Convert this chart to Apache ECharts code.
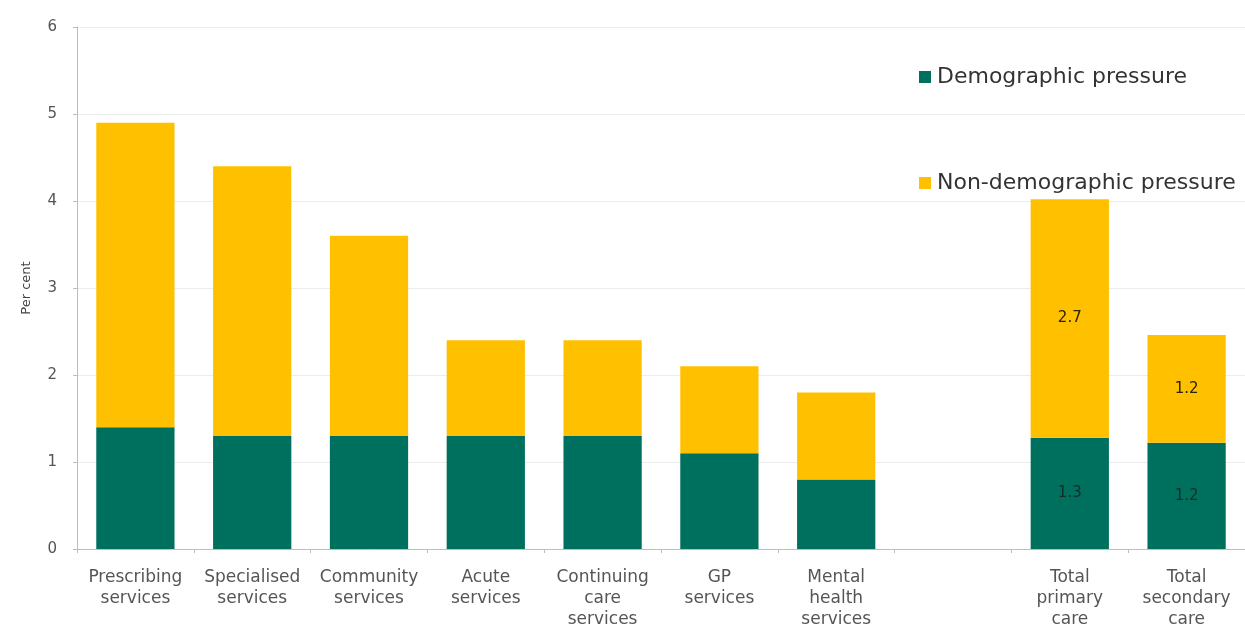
<!DOCTYPE html>
<html><head><meta charset="utf-8">
<script src="https://cdn.jsdelivr.net/npm/echarts@6/dist/echarts.min.js"></script>
<style>html,body{margin:0;padding:0;background:#fff}#c{width:1245px;height:635px}</style>
</head><body><div id="c"></div>
<script>
const categories = ["Prescribing\nservices","Specialised\nservices","Community\nservices","Acute\nservices","Continuing\ncare\nservices","GP\nservices","Mental\nhealth\nservices","","Total\nprimary\ncare","Total\nsecondary\ncare"];
const demographic = [1.4, 1.3, 1.3, 1.3, 1.3, 1.1, 0.8, null, 1.28, 1.22];
const nonDemographic = [3.5, 3.1, 2.3, 1.1, 1.1, 1.0, 1.0, null, 2.74, 1.24];
const labelled = [8, 9];
const yTicks = [0, 6, 1];

const FONT = '"DejaVu Sans", sans-serif';
function build(vals){
  return vals.map((v,i)=>({value:v, label:{show: labelled.includes(i) && v!=null}}));
}
const chart = echarts.init(document.getElementById('c'));
chart.setOption({
  animation:false,
  textStyle:{fontFamily:FONT},
  grid:{left:77, right:-6, top:27, bottom:86, containLabel:false},
  legend:{
    orient:'vertical', left:914, top:61, itemGap:84,
    itemWidth:12, itemHeight:12, icon:'rect',
    textStyle:{fontSize:22, color:'#333', fontFamily:FONT, padding:[0,0,0,1]},
    data:['Demographic pressure','Non-demographic pressure']
  },
  xAxis:{
    type:'category', data:categories,
    axisLine:{lineStyle:{color:'#bdbdbd'}},
    axisTick:{show:true, length:4, lineStyle:{color:'#bdbdbd'}},
    axisLabel:{color:'#555', fontSize:17, lineHeight:21, margin:18, interval:0, fontFamily:FONT}
  },
  yAxis:{
    type:'value', min:yTicks[0], max:yTicks[1], interval:yTicks[2],
    name:'Per cent', nameLocation:'middle', nameGap:44,
    nameTextStyle:{color:'#444', fontSize:13, fontFamily:FONT},
    axisLine:{show:true, lineStyle:{color:'#bdbdbd'}},
    axisTick:{show:true, length:4, lineStyle:{color:'#bdbdbd'}},
    axisLabel:{color:'#555', fontSize:15, margin:20, fontFamily:FONT},
    splitLine:{lineStyle:{color:'#ececec'}}
  },
  series:[
    {name:'Demographic pressure', type:'bar', stack:'a', barWidth:'67%',
     itemStyle:{color:'#00705E'}, data:build(demographic),
     label:{position:'inside', color:'#1b2b26', fontSize:15, formatter:p=>p.value.toFixed(1)}},
    {name:'Non-demographic pressure', type:'bar', stack:'a', barWidth:'67%',
     itemStyle:{color:'#FFC000'}, data:build(nonDemographic),
     label:{position:'inside', color:'#2b2200', fontSize:15, formatter:p=>p.value.toFixed(1)}}
  ]
});
</script></body></html>
